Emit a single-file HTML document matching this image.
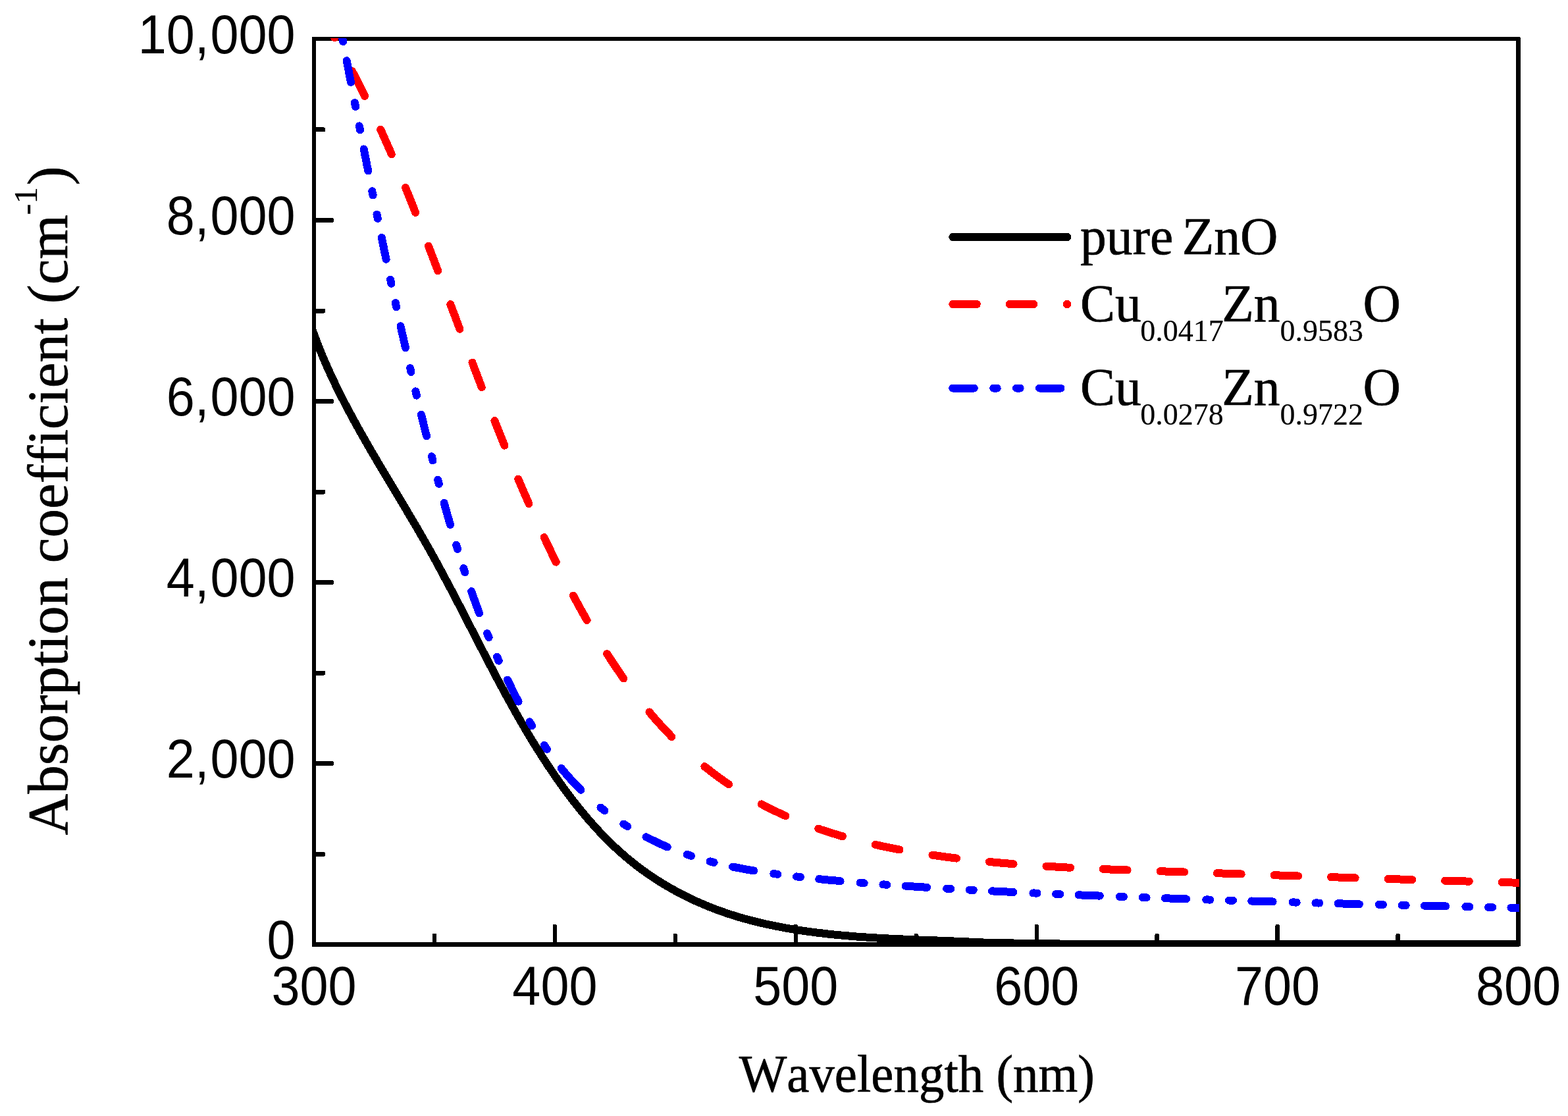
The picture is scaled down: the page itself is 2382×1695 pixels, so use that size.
<!DOCTYPE html>
<html lang="en"><head><meta charset="utf-8"><title>Absorption coefficient vs wavelength</title>
<style>html,body{margin:0;padding:0;background:#fff}body{width:2382px;height:1695px;overflow:hidden}svg{display:block}.sans{font-family:"Liberation Sans",Arial,Helvetica,sans-serif}.serif{font-family:"Liberation Serif","Times New Roman",Times,serif}text{fill:#000;font-kerning:none;font-variant-ligatures:none}</style></head><body>
<svg width="2382" height="1695" viewBox="0 0 2382 1695">
<rect width="2382" height="1695" fill="#fff"/>
<defs><clipPath id="plot"><rect x="476" y="58" width="1832" height="1380"/></clipPath></defs>
<g fill="#000" shape-rendering="crispEdges">
<rect x="474" y="56" width="6" height="1381.5"/>
<rect x="2303" y="57" width="7" height="1380"/>
<rect x="474" y="56" width="1835" height="6"/>
<rect x="476" y="1431" width="1832" height="7"/>
</g>
<g fill="#000" shape-rendering="crispEdges">
<rect x="656.8" y="1418" width="6.4" height="16" rx="2.2"/>
<rect x="839.7" y="1404" width="6.4" height="30" rx="2.2"/>
<rect x="1022.6" y="1418" width="6.4" height="16" rx="2.2"/>
<rect x="1205.6" y="1404" width="6.4" height="30" rx="2.2"/>
<rect x="1388.5" y="1418" width="6.4" height="16" rx="2.2"/>
<rect x="1571.5" y="1404" width="6.4" height="30" rx="2.2"/>
<rect x="1754.4" y="1418" width="6.4" height="16" rx="2.2"/>
<rect x="1937.4" y="1404" width="6.4" height="30" rx="2.2"/>
<rect x="2120.4" y="1418" width="6.4" height="16" rx="2.2"/>
<rect x="477" y="1293.8" width="17" height="7" rx="2.2"/>
<rect x="477" y="1156.2" width="30" height="7" rx="2.2"/>
<rect x="477" y="1018.6" width="17" height="7" rx="2.2"/>
<rect x="477" y="881.1" width="30" height="7" rx="2.2"/>
<rect x="477" y="743.5" width="17" height="7" rx="2.2"/>
<rect x="477" y="606.0" width="30" height="7" rx="2.2"/>
<rect x="477" y="468.5" width="17" height="7" rx="2.2"/>
<rect x="477" y="330.9" width="30" height="7" rx="2.2"/>
<rect x="477" y="193.3" width="17" height="7" rx="2.2"/>
</g>
<g clip-path="url(#plot)" fill="none" stroke-linejoin="round" shape-rendering="crispEdges">
<path d="M471.1,491.1 L472.8,496.0 L474.5,500.8 L476.2,505.7 L478.0,510.5 L479.8,515.3 L481.6,520.1 L483.5,524.8 L485.4,529.6 L487.3,534.3 L489.2,539.0 L491.2,543.7 L493.2,548.4 L495.3,553.1 L497.3,557.8 L499.4,562.4 L501.5,567.1 L503.7,571.7 L505.8,576.3 L508.0,580.9 L510.2,585.5 L512.5,590.1 L514.7,594.6 L517.0,599.2 L519.3,603.7 L521.6,608.2 L523.9,612.8 L526.3,617.3 L528.7,621.8 L531.1,626.3 L533.5,630.7 L535.9,635.2 L538.3,639.7 L540.8,644.1 L543.2,648.6 L545.7,653.0 L548.2,657.5 L550.7,661.9 L553.2,666.3 L555.8,670.8 L558.3,675.2 L560.9,679.6 L563.4,684.0 L566.0,688.4 L568.6,692.8 L571.2,697.2 L573.7,701.6 L576.3,705.9 L578.9,710.3 L581.6,714.7 L584.2,719.1 L586.8,723.5 L589.4,727.8 L592.0,732.2 L594.6,736.6 L597.3,741.0 L599.9,745.3 L602.5,749.7 L605.1,754.1 L607.8,758.5 L610.4,762.8 L613.0,767.2 L615.6,771.6 L618.2,776.0 L620.8,780.4 L623.4,784.7 L626.0,789.1 L628.6,793.5 L631.2,797.9 L633.8,802.3 L636.4,806.7 L638.9,811.2 L641.5,815.6 L644.0,820.0 L646.5,824.4 L649.1,828.9 L651.6,833.3 L654.1,837.7 L656.6,842.2 L659.0,846.7 L661.5,851.1 L663.9,855.6 L666.4,860.1 L668.8,864.6 L671.2,869.1 L673.6,873.6 L676.0,878.1 L678.4,882.6 L680.8,887.1 L683.2,891.6 L685.6,896.1 L687.9,900.6 L690.3,905.1 L692.7,909.7 L695.0,914.2 L697.4,918.7 L699.7,923.2 L702.0,927.8 L704.4,932.3 L706.7,936.9 L709.1,941.4 L711.4,945.9 L713.7,950.5 L716.0,955.0 L718.4,959.5 L720.7,964.1 L723.0,968.6 L725.4,973.2 L727.7,977.7 L730.0,982.2 L732.4,986.8 L734.7,991.3 L737.1,995.8 L739.4,1000.4 L741.8,1004.9 L744.1,1009.4 L746.5,1013.9 L748.9,1018.5 L751.3,1023.0 L753.6,1027.5 L756.0,1032.0 L758.4,1036.5 L760.8,1041.0 L763.3,1045.5 L765.7,1050.0 L768.1,1054.5 L770.6,1058.9 L773.0,1063.4 L775.5,1067.9 L778.0,1072.3 L780.4,1076.8 L782.9,1081.2 L785.5,1085.7 L788.0,1090.1 L790.5,1094.5 L793.1,1098.9 L795.7,1103.3 L798.2,1107.7 L800.8,1112.1 L803.5,1116.5 L806.1,1120.9 L808.7,1125.3 L811.4,1129.6 L814.1,1134.0 L816.8,1138.3 L819.5,1142.6 L822.3,1146.9 L825.0,1151.2 L827.8,1155.5 L830.6,1159.8 L833.4,1164.1 L836.3,1168.3 L839.2,1172.6 L842.0,1176.8 L845.0,1181.0 L847.9,1185.2 L850.9,1189.4 L853.8,1193.6 L856.9,1197.7 L859.9,1201.9 L862.9,1206.0 L866.0,1210.1 L869.1,1214.2 L872.3,1218.2 L875.4,1222.2 L878.6,1226.2 L881.8,1230.2 L885.1,1234.2 L888.4,1238.1 L891.7,1242.0 L895.0,1245.9 L898.4,1249.7 L901.8,1253.5 L905.2,1257.3 L908.6,1261.0 L912.1,1264.7 L915.6,1268.4 L919.2,1272.1 L922.8,1275.7 L926.4,1279.2 L930.0,1282.8 L933.7,1286.3 L937.4,1289.7 L941.2,1293.1 L945.0,1296.5 L948.8,1299.8 L952.6,1303.1 L956.5,1306.3 L960.5,1309.5 L964.4,1312.7 L968.4,1315.7 L972.5,1318.8 L976.5,1321.8 L980.6,1324.7 L984.8,1327.7 L989.0,1330.5 L993.2,1333.3 L997.4,1336.1 L1001.7,1338.8 L1006.0,1341.5 L1010.3,1344.1 L1014.7,1346.7 L1019.1,1349.2 L1023.5,1351.7 L1027.9,1354.1 L1032.4,1356.5 L1036.9,1358.8 L1041.4,1361.1 L1046.0,1363.4 L1050.6,1365.6 L1055.2,1367.7 L1059.8,1369.8 L1064.5,1371.8 L1069.1,1373.8 L1073.8,1375.8 L1078.5,1377.7 L1083.3,1379.5 L1088.0,1381.4 L1092.8,1383.1 L1097.6,1384.8 L1102.4,1386.5 L1107.2,1388.1 L1112.1,1389.7 L1117.0,1391.2 L1121.8,1392.7 L1126.7,1394.1 L1131.6,1395.5 L1136.6,1396.8 L1141.5,1398.1 L1146.5,1399.4 L1151.4,1400.6 L1156.4,1401.8 L1161.4,1403.0 L1166.4,1404.1 L1171.4,1405.1 L1176.4,1406.2 L1181.5,1407.2 L1186.5,1408.1 L1191.6,1409.1 L1196.6,1410.0 L1201.7,1410.8 L1206.8,1411.7 L1211.8,1412.5 L1216.9,1413.3 L1222.0,1414.0 L1227.1,1414.7 L1232.2,1415.4 L1237.3,1416.1 L1242.4,1416.7 L1247.5,1417.3 L1252.6,1417.9 L1257.7,1418.5 L1262.8,1419.0 L1267.9,1419.6 L1273.0,1420.1 L1278.1,1420.5 L1283.2,1421.0 L1288.3,1421.4 L1293.4,1421.9 L1298.6,1422.3 L1303.7,1422.7 L1308.8,1423.0 L1313.9,1423.4 L1319.0,1423.7 L1324.1,1424.0 L1329.2,1424.4 L1334.3,1424.6 L1339.4,1424.9 L1344.5,1425.2 L1349.6,1425.5 L1354.7,1425.7 L1359.8,1426.0 L1364.9,1426.2 L1370.0,1426.4 L1375.1,1426.7 L1380.2,1426.9 L1385.2,1427.1 L1390.3,1427.3 L1395.4,1427.5 L1400.5,1427.7 L1405.6,1427.9 L1410.7,1428.1 L1415.7,1428.3 L1420.8,1428.4 L1425.9,1428.6 L1431.0,1428.8 L1436.0,1429.0 L1441.1,1429.2 L1446.1,1429.4 L1451.2,1429.6 L1456.2,1429.8 L1461.3,1430.0 L1466.3,1430.2 L1471.4,1430.5 L1476.4,1430.7 L1481.5,1430.9 L1486.5,1431.2 L1491.5,1431.4 L1496.5,1431.7 L1501.6,1432.0 L1562.5,1432.8 L1643.1,1434.0 L1800.0,1434.2 L2000.0,1434.4 L2320.0,1434.5" stroke="#000" stroke-width="12"/>
<path d="M493.8,30.3 L495.9,34.2 L498.0,38.1 L500.1,41.9 L502.1,45.8 L504.2,49.6 L506.3,53.5 L508.4,57.3 M535.1,108.3 L537.9,113.6 L540.6,119.0 L543.3,124.3 L546.0,129.7 L548.7,135.1 L551.3,140.4 L554.0,145.8 M578.1,196.8 L580.6,202.1 L583.0,207.4 L585.4,212.8 L587.8,218.2 L590.1,223.5 L592.5,228.9 L594.8,234.3 M616.1,285.2 L618.3,290.6 L620.5,295.9 L622.6,301.3 L624.8,306.7 L626.9,312.0 L629.0,317.4 L631.1,322.8 M650.9,373.7 L653.0,379.1 L655.0,384.4 L657.1,389.8 L659.1,395.1 L661.1,400.5 L663.2,405.9 L665.2,411.2 M684.3,462.2 L686.3,467.5 L688.3,472.9 L690.4,478.3 L692.4,483.6 L694.4,489.0 L696.4,494.3 L698.4,499.7 M717.5,550.6 L719.5,556.0 L721.5,561.4 L723.6,566.7 L725.6,572.1 L727.6,577.5 L729.7,582.8 L731.7,588.2 M751.4,639.1 L753.5,644.5 L755.7,649.8 L757.8,655.2 L759.9,660.6 L762.1,665.9 L764.2,671.3 L766.4,676.6 M787.4,727.6 L789.6,733.0 L791.9,738.3 L794.2,743.7 L796.5,749.1 L798.9,754.4 L801.2,759.8 L803.5,765.1 M826.6,816.1 L829.2,821.4 L831.7,826.8 L834.3,832.2 L836.8,837.5 L839.4,842.9 L842.0,848.2 L844.7,853.6 M870.9,904.5 L873.8,909.9 L876.7,915.3 L879.6,920.7 L882.6,926.0 L885.6,931.4 L888.6,936.7 L891.6,942.0 M922.2,993.0 L925.7,998.4 L929.2,1003.8 L932.8,1009.2 L936.4,1014.6 L940.0,1019.9 L943.6,1025.2 L947.3,1030.5 M986.4,1081.5 L991.1,1087.0 L995.8,1092.5 L1000.6,1097.9 L1005.5,1103.2 L1010.4,1108.5 L1015.4,1113.8 L1020.4,1119.0 M1070.3,1164.1 L1075.4,1168.1 L1080.5,1172.1 L1085.7,1176.1 L1091.0,1180.0 L1096.3,1183.8 L1101.6,1187.6 L1107.0,1191.3 M1156.8,1221.4 L1161.9,1224.1 L1167.1,1226.8 L1172.4,1229.4 L1177.6,1231.9 L1182.9,1234.4 L1188.2,1236.8 L1193.5,1239.2 M1243.3,1258.7 L1248.5,1260.5 L1253.7,1262.2 L1259.0,1263.9 L1264.2,1265.5 L1269.5,1267.1 L1274.7,1268.7 L1280.0,1270.3 M1329.8,1282.9 L1335.1,1284.1 L1340.3,1285.2 L1345.5,1286.3 L1350.8,1287.4 L1356.0,1288.4 L1361.3,1289.5 L1366.5,1290.5 M1416.4,1298.7 L1421.6,1299.4 L1426.8,1300.2 L1432.1,1300.9 L1437.3,1301.6 L1442.6,1302.3 L1447.8,1302.9 L1453.1,1303.6 M1502.9,1309.0 L1508.1,1309.5 L1513.4,1310.0 L1518.6,1310.4 L1523.8,1310.9 L1529.1,1311.3 L1534.3,1311.8 L1539.6,1312.2 M1589.4,1315.7 L1594.6,1316.0 L1599.9,1316.3 L1605.1,1316.6 L1610.4,1316.9 L1615.6,1317.2 L1620.9,1317.5 L1626.1,1317.7 M1675.9,1320.0 L1681.2,1320.2 L1686.4,1320.5 L1691.7,1320.7 L1696.9,1320.9 L1702.1,1321.1 L1707.4,1321.3 L1712.6,1321.5 M1762.5,1323.2 L1767.7,1323.4 L1772.9,1323.6 L1778.2,1323.8 L1783.4,1323.9 L1788.7,1324.1 L1793.9,1324.3 L1799.2,1324.5 M1849.0,1326.2 L1854.2,1326.4 L1859.5,1326.6 L1864.7,1326.8 L1869.9,1327.0 L1875.2,1327.1 L1880.4,1327.3 L1885.7,1327.5 M1935.5,1329.2 L1940.7,1329.4 L1946.0,1329.6 L1951.2,1329.8 L1956.5,1329.9 L1961.7,1330.1 L1967.0,1330.3 L1972.2,1330.5 M2022.0,1332.1 L2027.3,1332.3 L2032.5,1332.5 L2037.7,1332.7 L2043.0,1332.8 L2048.2,1333.0 L2053.5,1333.2 L2058.7,1333.3 M2108.5,1335.0 L2113.8,1335.1 L2119.0,1335.3 L2124.3,1335.4 L2129.5,1335.6 L2134.8,1335.8 L2140.0,1335.9 L2145.2,1336.1 M2195.1,1337.6 L2200.3,1337.8 L2205.6,1337.9 L2210.8,1338.1 L2216.0,1338.2 L2221.3,1338.4 L2226.5,1338.5 L2231.8,1338.7 M2281.6,1340.1 L2286.8,1340.2 L2292.1,1340.4 L2297.3,1340.5 L2302.6,1340.6 L2307.8,1340.8 L2313.0,1340.9 L2318.3,1341.1" stroke="#f00" stroke-width="12" stroke-linecap="round"/>
<path d="M520.0,57.1 L520.7,60.5 L521.2,63.2 M526.7,92.1 L527.6,96.8 L528.5,101.6 L529.4,106.3 L530.3,111.0 L531.2,115.7 L532.1,120.4 L533.0,125.1 M538.9,155.9 L539.6,159.5 L540.1,162.1 M545.8,191.4 L546.3,193.7 L547.0,197.5 M552.7,226.5 L553.6,231.2 L554.5,235.9 L555.5,240.6 L556.4,245.3 L557.3,250.1 L558.3,254.8 L559.2,259.5 M565.3,290.3 L565.8,292.7 L566.6,296.4 M572.5,325.7 L572.7,326.9 L573.5,330.7 L573.8,331.9 M579.7,360.8 L580.7,365.5 L581.7,370.2 L582.7,375.0 L583.6,379.7 L584.6,384.4 L585.6,389.1 L586.6,393.8 M593.1,424.6 L593.4,425.7 L594.2,429.5 L594.4,430.7 M600.8,460.1 L601.6,463.6 L602.1,466.2 M608.5,495.2 L609.6,499.9 L610.6,504.6 L611.7,509.3 L612.8,514.0 L613.8,518.7 L614.9,523.5 L616.0,528.2 M623.1,559.0 L623.8,562.0 L624.5,565.1 M631.4,594.4 L631.8,595.9 L632.7,599.7 L632.9,600.6 M639.9,629.5 L641.0,634.2 L642.2,638.9 L643.4,643.7 L644.5,648.4 L645.7,653.1 L646.9,657.8 L648.1,662.5 M655.9,693.3 L656.0,693.8 L657.0,697.5 L657.5,699.4 M665.1,728.8 L665.8,731.2 L666.8,734.9 M674.6,763.8 L675.9,768.6 L677.3,773.3 L678.6,778.0 L679.9,782.7 L681.3,787.4 L682.6,792.2 L684.0,796.9 M693.2,827.6 L693.3,828.1 L694.4,831.8 L695.0,833.8 M704.3,863.1 L704.9,865.0 L706.1,868.6 L706.4,869.3 M716.2,898.2 L717.8,902.9 L719.5,907.7 L721.2,912.4 L722.9,917.1 L724.6,921.8 L726.4,926.5 L728.1,931.2 M740.1,962.0 L740.6,963.3 L742.1,966.9 L742.6,968.1 M755.0,997.5 L755.7,999.2 L757.3,1002.8 L757.7,1003.6 M771.0,1032.5 L773.3,1037.3 L775.6,1042.0 L777.9,1046.8 L780.3,1051.5 L782.6,1056.2 L785.0,1060.9 L787.5,1065.6 M804.5,1096.3 L804.9,1097.1 L806.9,1100.5 L808.1,1102.5 M826.7,1131.8 L827.8,1133.4 L830.0,1136.6 L830.9,1138.0 M852.6,1166.9 L856.7,1171.8 L860.8,1176.6 L865.0,1181.4 L869.2,1186.1 L873.6,1190.8 L878.0,1195.3 L882.4,1199.8 M912.5,1226.6 L913.0,1226.9 L916.0,1229.3 L918.5,1231.3 M947.2,1251.5 L947.3,1251.5 L950.5,1253.5 L953.2,1255.2 M981.5,1271.2 L986.1,1273.6 L990.6,1275.8 L995.2,1278.0 L999.8,1280.2 L1004.5,1282.3 L1009.1,1284.4 L1013.8,1286.4 M1043.9,1297.9 L1044.5,1298.1 L1048.2,1299.3 L1049.9,1299.9 M1078.6,1308.4 L1081.6,1309.2 L1084.6,1309.9 M1112.9,1316.5 L1117.5,1317.4 L1122.1,1318.3 L1126.7,1319.2 L1131.3,1320.1 L1136.0,1320.9 L1140.6,1321.7 L1145.2,1322.5 M1175.3,1327.0 L1177.3,1327.3 L1181.2,1327.8 L1181.3,1327.8 M1210.0,1331.4 L1212.2,1331.6 L1216.0,1332.1 M1244.3,1335.1 L1248.9,1335.6 L1253.5,1336.0 L1258.1,1336.5 L1262.8,1336.9 L1267.4,1337.3 L1272.0,1337.7 L1276.6,1338.2 M1306.7,1340.7 L1308.9,1340.9 L1312.7,1341.2 M1341.4,1343.4 L1343.7,1343.5 L1347.4,1343.8 M1375.7,1345.7 L1380.3,1346.0 L1384.9,1346.3 L1389.5,1346.6 L1394.2,1346.9 L1398.8,1347.2 L1403.4,1347.5 L1408.0,1347.8 M1438.1,1349.6 L1440.3,1349.7 L1444.1,1349.9 M1472.8,1351.6 L1475.1,1351.7 L1478.8,1351.9 M1507.1,1353.4 L1511.7,1353.6 L1516.3,1353.8 L1520.9,1354.1 L1525.5,1354.3 L1530.2,1354.5 L1534.8,1354.7 L1539.4,1355.0 M1569.5,1356.4 L1571.9,1356.5 L1575.5,1356.6 M1604.2,1357.9 L1606.7,1358.0 L1610.2,1358.1 M1638.5,1359.3 L1643.1,1359.5 L1647.7,1359.7 L1652.3,1359.9 L1656.9,1360.1 L1661.5,1360.2 L1666.2,1360.4 L1670.8,1360.6 M1700.9,1361.8 L1703.6,1361.9 L1706.9,1362.0 M1735.6,1363.0 L1738.5,1363.1 L1741.6,1363.3 M1769.9,1364.3 L1774.5,1364.4 L1779.1,1364.6 L1783.7,1364.7 L1788.3,1364.9 L1792.9,1365.1 L1797.6,1365.2 L1802.2,1365.4 M1832.3,1366.4 L1835.4,1366.5 L1838.3,1366.6 M1867.0,1367.5 L1870.3,1367.6 L1873.0,1367.7 M1901.3,1368.5 L1905.9,1368.7 L1910.5,1368.8 L1915.1,1369.0 L1919.7,1369.1 L1924.3,1369.2 L1928.9,1369.4 L1933.6,1369.5 M1963.7,1370.4 L1967.2,1370.5 L1969.7,1370.6 M1998.4,1371.4 L2002.1,1371.5 L2004.4,1371.5 M2032.6,1372.3 L2037.3,1372.4 L2041.9,1372.6 L2046.5,1372.7 L2051.1,1372.8 L2055.7,1372.9 L2060.3,1373.0 L2064.9,1373.2 M2095.0,1373.9 L2095.1,1373.9 L2099.0,1374.0 L2101.0,1374.1 M2129.7,1374.8 L2130.0,1374.8 L2133.9,1374.9 L2135.7,1375.0 M2164.0,1375.7 L2168.6,1375.8 L2173.3,1375.9 L2177.9,1376.0 L2182.5,1376.1 L2187.1,1376.2 L2191.7,1376.3 L2196.3,1376.4 M2226.4,1377.1 L2227.0,1377.1 L2230.8,1377.2 L2232.4,1377.3 M2261.1,1377.9 L2261.8,1377.9 L2265.7,1378.0 L2267.1,1378.0 M2295.4,1378.7 L2296.7,1378.7 L2300.6,1378.8 L2304.5,1378.9 L2308.3,1379.0 L2312.2,1379.0 L2316.1,1379.1 L2320.0,1379.2" stroke="#00f" stroke-width="12" stroke-linecap="round"/>
</g>
<g class="sans" font-size="83.2">
<text transform="translate(448.6,1456.0) scale(0.93,1)" text-anchor="end">0</text>
<text transform="translate(448.6,1181.0) scale(0.93,1)" text-anchor="end">2,<tspan dx="2.3">000</tspan></text>
<text transform="translate(448.6,906.0) scale(0.93,1)" text-anchor="end">4,<tspan dx="2.3">000</tspan></text>
<text transform="translate(448.6,631.0) scale(0.93,1)" text-anchor="end">6,<tspan dx="2.3">000</tspan></text>
<text transform="translate(448.6,356.0) scale(0.93,1)" text-anchor="end">8,<tspan dx="2.3">000</tspan></text>
<text transform="translate(448.6,81.0) scale(0.93,1)" text-anchor="end">10,<tspan dx="2.3">000</tspan></text>
<text transform="translate(477.0,1525.8) scale(0.93,1)" text-anchor="middle">300</text>
<text transform="translate(842.9,1525.8) scale(0.93,1)" text-anchor="middle">400</text>
<text transform="translate(1208.8,1525.8) scale(0.93,1)" text-anchor="middle">500</text>
<text transform="translate(1574.7,1525.8) scale(0.93,1)" text-anchor="middle">600</text>
<text transform="translate(1940.6,1525.8) scale(0.93,1)" text-anchor="middle">700</text>
<text transform="translate(2306.5,1525.8) scale(0.93,1)" text-anchor="middle">800</text>
</g>
<g class="serif" stroke="#000" stroke-width="0.7">
<text transform="translate(1392.8,1658.2) scale(0.9555,1)" font-size="80.5" text-anchor="middle">Wavelength (nm)</text>
<text transform="translate(101.5,1268.6) rotate(-90)" font-size="87.05" text-anchor="start">Absorption coefficient (cm<tspan font-size="51" dy="-46" dx="-0.5" stroke-width="0.3">-<tspan dx="0">1</tspan></tspan><tspan dy="46" dx="2.5">)</tspan></text>
</g>
<g fill="none" stroke-width="12" stroke-linecap="round" shape-rendering="crispEdges">
<path d="M1447.3,360 H1621.2" stroke="#000"/>
<path d="M1447.3,462 H1621.2" stroke="#f00" stroke-dasharray="36.5 50.1"/>
<path d="M1447.3,589.6 H1621.2" stroke="#00f" stroke-dasharray="32.5 29.4 5.5 29.4 5.5 29.4"/>
</g>
<g class="serif" font-size="79.5" stroke="#000" stroke-width="0.7">
<text x="1641" y="385.6">pure <tspan dx="-6.5">ZnO</tspan></text>
<text x="1641" y="488">Cu<tspan font-size="46" dy="30" dx="-1.5" stroke-width="0.2">0.0417</tspan><tspan dy="-30" dx="-2.5">Zn</tspan><tspan font-size="46" dy="30" dx="0" stroke-width="0.2">0.9583</tspan><tspan dy="-30" dx="-0.7">O</tspan></text>
<text x="1641" y="615">Cu<tspan font-size="46" dy="30" dx="-1.5" stroke-width="0.2">0.0278</tspan><tspan dy="-30" dx="-2.5">Zn</tspan><tspan font-size="46" dy="30" dx="0" stroke-width="0.2">0.9722</tspan><tspan dy="-30" dx="-0.7">O</tspan></text>
</g>
</svg></body></html>
